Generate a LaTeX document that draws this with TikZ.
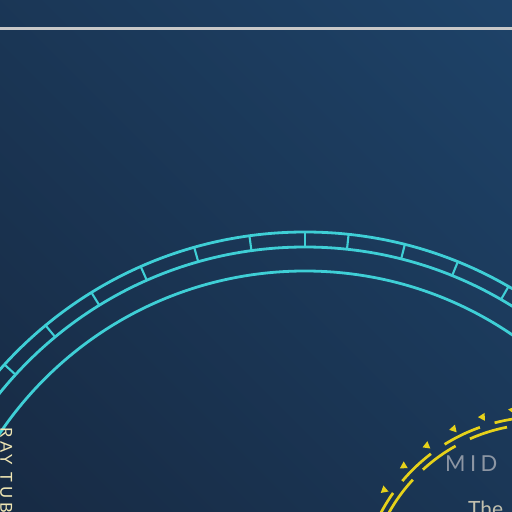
\documentclass[tikz,border=0pt]{standalone}
\usepackage{fontspec}
\setmainfont{Lato}
\definecolor{bgll}{HTML}{172A43}
\definecolor{bgur}{HTML}{1E4369}
\definecolor{cyanc}{HTML}{3FCFD6}
\definecolor{yelc}{HTML}{E6D11A}
\definecolor{midgray}{HTML}{8D96A3}
\definecolor{thegray}{HTML}{C2C0AE}
\definecolor{raycream}{HTML}{EFE6B4}
\definecolor{linegray}{HTML}{C8C8C8}
\tikzset{
  cyanline/.style={draw=cyanc, line width=2.8pt},
  tickline/.style={draw=cyanc, line width=2.1pt},
  yelline/.style={draw=yelc, line width=2.7pt},
  topline/.style={draw=linegray, line width=3pt},
  midtext/.style={text=midgray, inner sep=0pt, font=\fontsize{22}{24}\selectfont\addfontfeature{LetterSpace=20}},
  raytext/.style={text=raycream, inner sep=0pt, font=\fontsize{16.5}{18}\selectfont\addfontfeature{LetterSpace=22}},
  thetext/.style={text=thegray, inner sep=0pt, font=\fontsize{21}{24}\selectfont},
}
\begin{document}
\begin{tikzpicture}[x=1pt,y=1pt]
\useasboundingbox (0,0) rectangle (512,512);
\clip (0,0) rectangle (512,512);
\shade[bottom color=bgll, top color=bgur, shading angle=-45] (-120,-120) rectangle (632,632);
% top rule
\coordinate (tl) at (0,483);
\coordinate (tr) at (512,483);
\draw[topline] (tl) -- (tr);
% cyan rings
\coordinate (C) at (305,-127);
\foreach \r in {368,392,407} \draw[cyanline] (C) circle[radius=\r];
\foreach \t in {0,6.15,14.2,22.05,30.0,37.95,-7.85,-15.8,-23.8,-31.65,-39.6,-47.6,-55.5}
  \draw[tickline] ([shift={(90-\t:392)}]C) -- ([shift={(90-\t:407)}]C);
% yellow rings
\coordinate (Y) at (540,-85);
\foreach \a/\b in {92.1/104.6,109.5/122,127.3/139.9,144.7/160}
  \draw[yelline] ([shift={(\a:180)}]Y) arc[start angle=\a, end angle=\b, radius=180];
\foreach \a/\b in {83/96,101/113.9,119.2/132.6,137.3/155}
  \draw[yelline] ([shift={(\a:173)}]Y) arc[start angle=\a, end angle=\b, radius=173];
\foreach \a in {145.5,136.1,126.8,117.2,107.7,98.3}
  \fill[yelc, shift={(540,-85)}, rotate=\a] (189,0) ++(\a+75-\a:4.6) -- ++(\a+75-\a+150:7.9) -- ++(\a+75-\a+270:7.9) -- cycle;
% texts
\node[midtext, anchor=base west] (mid) at (445,41) {MID};
\node[thetext, anchor=base west] (the) at (468,-5) {The};
\node[raytext, rotate=-90, anchor=base west] (ray) at (0.3,85) {RAY TUB};
\end{tikzpicture}
\end{document}
